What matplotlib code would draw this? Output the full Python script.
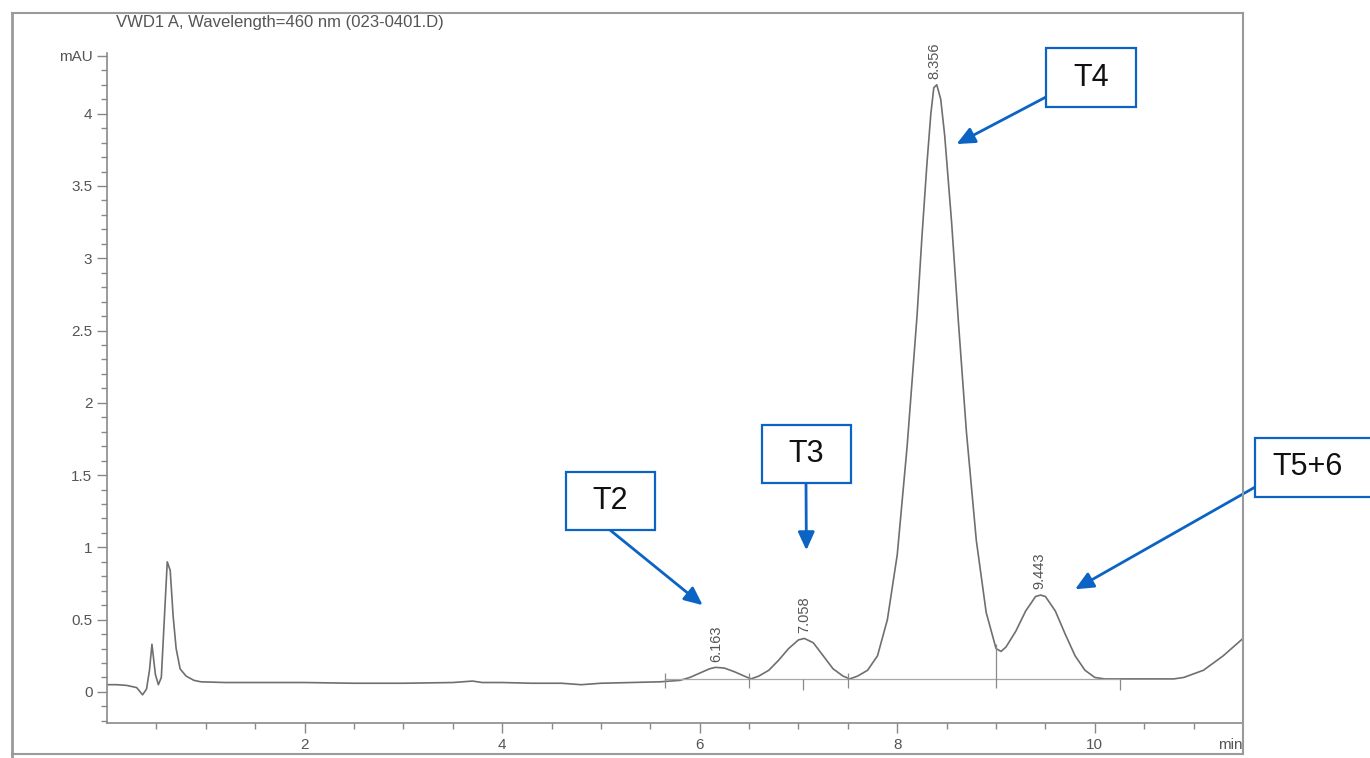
import numpy as np
import matplotlib.pyplot as plt
from matplotlib.patches import Rectangle
from matplotlib.lines import Line2D

# chromatogram trace (min, mAU)
time = [0.00, 0.10, 0.20, 0.30, 0.36, 0.40, 0.43, 0.455, 0.49, 0.52,
        0.55, 0.58, 0.61, 0.64, 0.67, 0.70, 0.74, 0.80, 0.88, 0.95,
        1.20, 1.50, 2.00, 2.50, 3.00, 3.50, 3.70, 3.80, 4.00, 4.30,
        4.60, 4.80, 5.00, 5.30, 5.60, 5.80, 5.90, 6.00, 6.10, 6.16,
        6.25, 6.35, 6.45, 6.52, 6.60, 6.70, 6.80, 6.90, 7.00, 7.06,
        7.15, 7.25, 7.35, 7.45, 7.52, 7.60, 7.70, 7.80, 7.90, 8.00,
        8.10, 8.20, 8.25, 8.30, 8.34, 8.37, 8.40, 8.44, 8.48, 8.55,
        8.62, 8.70, 8.80, 8.90, 9.00, 9.05, 9.10, 9.20, 9.30, 9.40,
        9.45, 9.50, 9.60, 9.70, 9.80, 9.90, 10.00, 10.10, 10.50, 10.80,
        10.90, 11.10, 11.30, 11.50]
signal = [0.05, 0.05, 0.045, 0.03, -0.02, 0.02, 0.15, 0.33, 0.12, 0.05,
          0.10, 0.50, 0.90, 0.84, 0.52, 0.30, 0.16, 0.11, 0.08, 0.07,
          0.065, 0.065, 0.065, 0.06, 0.06, 0.065, 0.075, 0.065, 0.065, 0.06,
          0.06, 0.05, 0.06, 0.065, 0.07, 0.08, 0.10, 0.13, 0.16, 0.17,
          0.165, 0.14, 0.11, 0.09, 0.11, 0.15, 0.22, 0.30, 0.36, 0.37,
          0.34, 0.25, 0.16, 0.11, 0.09, 0.11, 0.15, 0.25, 0.50, 0.95,
          1.70, 2.60, 3.15, 3.65, 4.00, 4.18, 4.20, 4.10, 3.85, 3.25,
          2.55, 1.80, 1.05, 0.55, 0.30, 0.28, 0.31, 0.42, 0.56, 0.66,
          0.67, 0.66, 0.56, 0.40, 0.25, 0.15, 0.10, 0.09, 0.09, 0.09,
          0.10, 0.15, 0.25, 0.37]

peak_rt = [6.163, 7.058, 8.375, 9.443]
peak_top = [0.17, 0.37, 4.20, 0.67]
peak_lbl = ["6.163", "7.058", "8.356", "9.443"]

# integration baseline, peak boundaries and apex marks
base_x = [5.65, 10.25]
base_y = [0.09, 0.09]
bounds = [5.65, 6.5, 7.5, 9.0]
apex_marks = [7.05, 10.25]

# annotation boxes: label, arrow tip (min, mAU)
tags = ["T2", "T3", "T4", "T5+6"]
tag_tip = [(6.03, 0.60), (7.08, 0.98), (8.6, 3.79), (9.8, 0.71)]

W, H = 1370, 758
fig = plt.figure(figsize=(W / 100, H / 100), dpi=100)
ax = fig.add_axes([107 / W, 35 / H, 1136 / W, 670 / H])

grey = '#6f6f6f'
tc = '#555555'
ax.plot(time, signal, color=grey, lw=1.2)
ax.plot(base_x, base_y, color='#a8a8a8', lw=0.9)
for m in bounds:
    j = int(np.argmin(np.abs(np.array(time) - m)))
    ax.vlines(m, 0.03, max(signal[j] + 0.03, 0.13), color='#8a8a8a', lw=0.9)
for m in apex_marks:
    ax.vlines(m, 0.01, 0.09, color='#8a8a8a', lw=0.9)

for x, y, s in zip(peak_rt, peak_top, peak_lbl):
    ax.text(x, y + 0.04, s, rotation=90, ha='center', va='bottom',
            fontsize=10.5, color=tc, family='Liberation Sans')

ax.set_xlim(0, 11.5)
ax.set_ylim(-0.215, 4.42)
ax.set_xticks([2, 4, 6, 8, 10])
ax.set_xticks(np.arange(0.5, 11.5, 0.5), minor=True)
yt = [0, 0.5, 1, 1.5, 2, 2.5, 3, 3.5, 4, 4.4]
ax.set_yticks(yt)
ax.set_yticklabels(['0', '0.5', '1', '1.5', '2', '2.5', '3', '3.5', '4', 'mAU'])
ax.set_yticks(np.arange(-0.2, 4.41, 0.1), minor=True)
ax.tick_params(which='major', length=7, width=1, color='#888888',
               labelsize=11, labelcolor=tc)
ax.tick_params(which='minor', length=4, width=1, color='#888888')
for lab in ax.get_xticklabels() + ax.get_yticklabels():
    lab.set_family('Liberation Sans')
ax.spines['top'].set_visible(False)
for sp in ['left', 'bottom', 'right']:
    ax.spines[sp].set_color('#8a8a8a')
    ax.spines[sp].set_linewidth(1.2)
ax.text(11.5, -0.37, 'min', ha='right', va='center', fontsize=11, color=tc,
        family='Liberation Sans')

fig.text(280 / W, 1 - 23 / H, 'VWD1 A, Wavelength=460 nm (023-0401.D)',
         ha='center', va='center', fontsize=12, color=tc,
         family='Liberation Sans')

# outer frame of the printout
fc = '#9a9a9a'
fig.add_artist(Line2D([12 / W, 12 / W], [0, 1 - 13 / H], color=fc, lw=2,
                      transform=fig.transFigure))
fig.add_artist(Line2D([12 / W, 1243 / W], [1 - 13 / H, 1 - 13 / H], color=fc,
                      lw=1.5, transform=fig.transFigure))
fig.add_artist(Line2D([1243 / W, 1243 / W], [4 / H, 1 - 13 / H], color=fc,
                      lw=1.5, transform=fig.transFigure))
fig.add_artist(Line2D([12 / W, 1243 / W], [4 / H, 4 / H], color=fc,
                      lw=1.5, transform=fig.transFigure))

blue = '#0b63c4'
boxes = [(566, 472, 89, 58), (762, 425, 89, 58), (1046, 48, 90, 59),
         (1255, 438, 140, 59)]
tails = [(610, 530), (806, 483), (1046, 97), (1257, 486)]
for lab, (bx, by, bw, bh), (tx, ty), tip in zip(tags, boxes, tails, tag_tip):
    fig.add_artist(Rectangle((bx / W, 1 - (by + bh) / H), bw / W, bh / H,
                             transform=fig.transFigure, fill=True,
                             facecolor='white', edgecolor=blue, lw=1.6,
                             clip_on=False))
    cx = bx + bw / 2 if bx + bw < W else 1308
    fig.text(cx / W, 1 - (by + bh / 2) / H, lab, ha='center', va='center',
             fontsize=22, color='#111111', family='Liberation Sans')
    ax.annotate('', xy=tip, xycoords='data',
                xytext=(tx / W, 1 - ty / H), textcoords='figure fraction',
                arrowprops=dict(arrowstyle='-|>,head_length=1.1,head_width=0.5',
                                color=blue, lw=2, shrinkA=0, shrinkB=0),
                annotation_clip=False)

fig.savefig('out.png', dpi=100)
